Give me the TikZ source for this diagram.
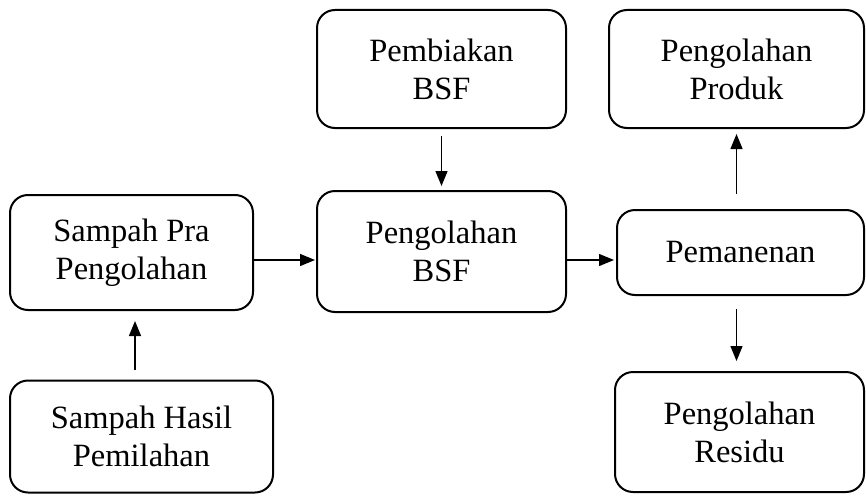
\documentclass[tikz,border=0pt]{standalone}
\usepackage{fontspec}
\setmainfont{Liberation Serif}
\usetikzlibrary{arrows.meta}
\begin{document}
\begin{tikzpicture}[x=1pt,y=-1pt,
  box/.style={draw, line width=2pt, rounded corners=18pt, align=center, inner sep=0pt,
    font=\fontsize{32.5}{38}\selectfont},
  arr/.style={line width=1.3pt, -{Triangle[length=15pt,width=12pt]}}]
\useasboundingbox (0,0) rectangle (866,495);
\node[box, minimum width=243pt, minimum height=115pt] (A) at (131.5,252.5) {Sampah Pra\\Pengolahan};
\node[box, minimum width=249pt, minimum height=121pt] (B) at (441.5,251.5) {Pengolahan\\BSF};
\node[box, minimum width=249pt, minimum height=118pt] (C) at (441.5,69) {Pembiakan\\BSF};
\node[box, minimum width=247pt, minimum height=85pt] (D) at (740.5,252.5) {Pemanenan};
\node[box, minimum width=255pt, minimum height=118pt] (E) at (736.5,69) {Pengolahan\\Produk};
\node[box, minimum width=249pt, minimum height=120pt] (F) at (739.5,432) {Pengolahan\\Residu};
\node[box, minimum width=263pt, minimum height=112pt] (G) at (141.5,436.5) {Sampah Hasil\\Pemilahan};
\draw[arr, shorten <=7pt, shorten >=4pt] (C.south) -- (B.north);
\draw[arr, shorten >=1pt] ([yshift=-7.5pt]A.east) -- ([yshift=-8.5pt]B.west);
\draw[arr, shorten >=2pt] ([yshift=-8.5pt]B.east) -- ([yshift=-7.5pt]D.west);
\draw[arr, shorten <=15pt, shorten >=5pt] (D.north -| E.south) -- (E.south);
\draw[arr, shorten <=13pt, shorten >=10pt] (D.south -| E.south) -- (F.north -| E.south);
\draw[arr, shorten <=10pt, shorten >=10pt] ([xshift=-6.5pt]G.north) -- ([xshift=3.5pt]A.south);
\end{tikzpicture}
\end{document}
